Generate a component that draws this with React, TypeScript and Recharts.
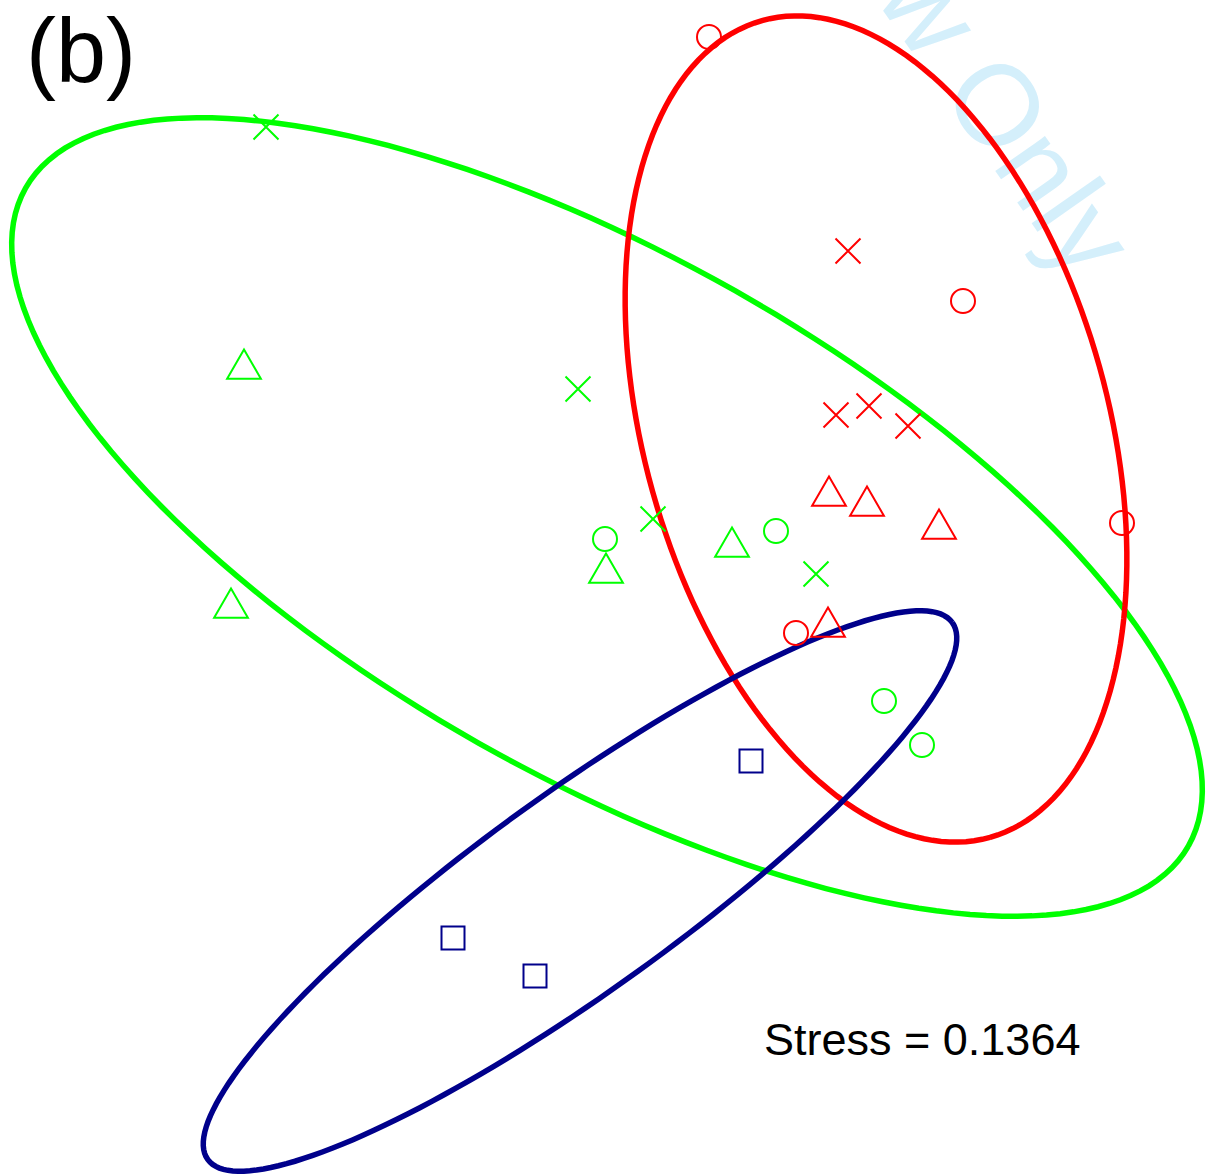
import { ComposedChart, Scatter, Line, XAxis, YAxis, Customized } from 'recharts';

// plot units: x to the right, y upwards (origin bottom-left of the panel)
const RED = '#FF0000';
const GREEN = '#00FF00';
const NAVY = '#00008B';

const redCircles = [
  { x: 709, y: 1138 },
  { x: 963, y: 874 },
  { x: 1122, y: 652 },
  { x: 796, y: 542 },
];
const redCrosses = [
  { x: 848, y: 924 },
  { x: 836, y: 760 },
  { x: 869, y: 769 },
  { x: 908, y: 749 },
];
const redTriangles = [
  { x: 829, y: 679 },
  { x: 867, y: 669 },
  { x: 939, y: 646 },
  { x: 828, y: 548 },
];
const greenCircles = [
  { x: 605, y: 636 },
  { x: 776, y: 644 },
  { x: 884, y: 474 },
  { x: 922, y: 430 },
];
const greenCrosses = [
  { x: 266, y: 1048 },
  { x: 578, y: 786 },
  { x: 653, y: 656 },
  { x: 816, y: 601 },
];
const greenTriangles = [
  { x: 244, y: 806 },
  { x: 231, y: 567 },
  { x: 606, y: 602 },
  { x: 732, y: 628 },
];
const blueSquares = [
  { x: 751, y: 414 },
  { x: 453, y: 237 },
  { x: 535, y: 199 },
];

// group ellipses: centre, semi-axes, rotation (deg)
const ellipses = [
  { name: 'green', cx: 607, cy: 658, a: 668, b: 260, angle: -29.5, color: GREEN },
  { name: 'red', cx: 876, cy: 746, a: 424, b: 232, angle: -74.4, color: RED },
  { name: 'blue', cx: 580, cy: 284, a: 459, b: 99, angle: 35.8, color: NAVY },
];

const ellipsePath = (e) => {
  const phi = (e.angle * Math.PI) / 180;
  const pts = [];
  for (let i = 0; i <= 180; i++) {
    const t = (2 * Math.PI * i) / 180;
    pts.push({
      x: e.cx + e.a * Math.cos(t) * Math.cos(phi) - e.b * Math.sin(t) * Math.sin(phi),
      y: e.cy + e.a * Math.cos(t) * Math.sin(phi) + e.b * Math.sin(t) * Math.cos(phi),
    });
  }
  return pts;
};

const circleShape = (color) => (p) => (
  <circle cx={p.cx} cy={p.cy} r={12} fill="none" stroke={color} strokeWidth={2} />
);
const crossShape = (color) => (p) => (
  <path
    d={`M${p.cx - 12.5},${p.cy - 12.5}L${p.cx + 12.5},${p.cy + 12.5}M${p.cx - 12.5},${p.cy + 12.5}L${p.cx + 12.5},${p.cy - 12.5}`}
    stroke={color}
    strokeWidth={2}
    fill="none"
  />
);
const triangleShape = (color) => (p) => {
  const r = 19.5;
  const w = r * 0.866;
  return (
    <path
      d={`M${p.cx},${p.cy - r}L${p.cx + w},${p.cy + r / 2}L${p.cx - w},${p.cy + r / 2}Z`}
      stroke={color}
      strokeWidth={2}
      fill="none"
    />
  );
};
const squareShape = (color) => (p) => (
  <rect x={p.cx - 11.5} y={p.cy - 11.5} width={23} height={23} stroke={color} strokeWidth={2} fill="none" />
);

const Watermark = () => (
  <text
    x={1075}
    y={285}
    transform="rotate(55 1075 285)"
    textAnchor="end"
    fontFamily="'Liberation Sans', Arial, sans-serif"
    fontSize={115}
    fill="#D4EFFB"
  >
    For Peer Review Only
  </text>
);

const Labels = () => (
  <g fontFamily="'Liberation Sans', Arial, sans-serif" fill="#000">
    <text x={26} y={82} fontSize={90}>(b)</text>
    <text x={764} y={1055} fontSize={45}>Stress = 0.1364</text>
  </g>
);

export default function App() {
  return (
    <div style={{ position: 'absolute', left: 0, top: 0, width: 1206, height: 1175, background: '#fff' }}>
      <ComposedChart width={1206} height={1175} margin={{ top: 0, right: 0, bottom: 0, left: 0 }}>
        <XAxis type="number" dataKey="x" domain={[0, 1206]} allowDataOverflow hide />
        <YAxis type="number" dataKey="y" domain={[0, 1175]} allowDataOverflow hide />
        <Customized component={Watermark} />
        {ellipses.map((e) => (
          <Line
            key={e.name}
            data={ellipsePath(e)}
            dataKey="y"
            type="linear"
            stroke={e.color}
            strokeWidth={5.5}
            dot={false}
            activeDot={false}
            isAnimationActive={false}
          />
        ))}
        <Scatter data={redCircles} dataKey="y" shape={circleShape(RED)} isAnimationActive={false} />
        <Scatter data={redCrosses} dataKey="y" shape={crossShape(RED)} isAnimationActive={false} />
        <Scatter data={redTriangles} dataKey="y" shape={triangleShape(RED)} isAnimationActive={false} />
        <Scatter data={greenCircles} dataKey="y" shape={circleShape(GREEN)} isAnimationActive={false} />
        <Scatter data={greenCrosses} dataKey="y" shape={crossShape(GREEN)} isAnimationActive={false} />
        <Scatter data={greenTriangles} dataKey="y" shape={triangleShape(GREEN)} isAnimationActive={false} />
        <Scatter data={blueSquares} dataKey="y" shape={squareShape(NAVY)} isAnimationActive={false} />
        <Customized component={Labels} />
      </ComposedChart>
    </div>
  );
}
